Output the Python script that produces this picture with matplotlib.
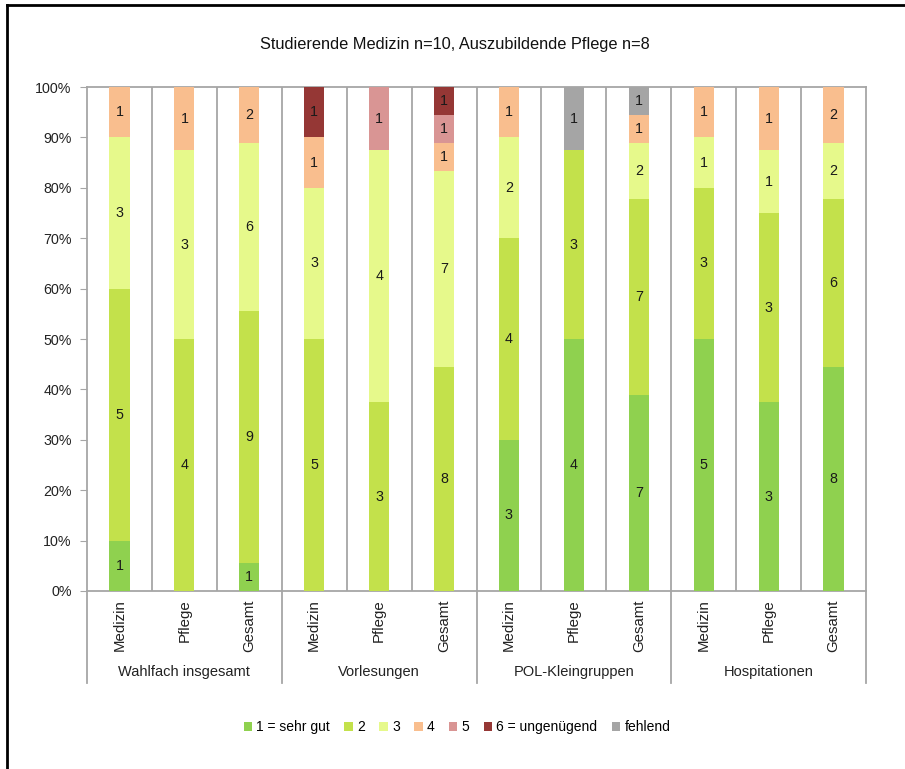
import matplotlib
matplotlib.use("Agg")
import matplotlib.pyplot as plt
from matplotlib.patches import Patch
from matplotlib.lines import Line2D
import numpy as np

plt.rcParams['font.family'] = ['Liberation Sans', 'DejaVu Sans']

title = "Studierende Medizin n=10, Auszubildende Pflege n=8"
groups = ["Wahlfach insgesamt", "Vorlesungen", "POL-Kleingruppen", "Hospitationen"]
subcats = ["Medizin", "Pflege", "Gesamt"]
series_names = ["1 = sehr gut", "2", "3", "4", "5", "6 = ungenügend", "fehlend"]
series_colors = ["#8fd14f", "#c3e14b", "#e6f98b", "#f9be8e", "#d99594", "#953735", "#a5a5a5"]

# counts per bar (12 bars), one list per grade
g1 = [1, 0, 1,   0, 0, 0,   3, 4, 7,   5, 3, 8]
g2 = [5, 4, 9,   5, 3, 8,   4, 3, 7,   3, 3, 6]
g3 = [3, 3, 6,   3, 4, 7,   2, 0, 2,   1, 1, 2]
g4 = [1, 1, 2,   1, 0, 1,   1, 0, 1,   1, 1, 2]
g5 = [0, 0, 0,   0, 1, 1,   0, 0, 0,   0, 0, 0]
g6 = [0, 0, 0,   1, 0, 1,   0, 0, 0,   0, 0, 0]
gf = [0, 0, 0,   0, 0, 0,   0, 1, 1,   0, 0, 0]

counts = np.array([g1, g2, g3, g4, g5, g6, gf], dtype=float)
totals = counts.sum(axis=0)
shares = counts / totals

W, H = 905, 769
fig = plt.figure(figsize=(W / 100, H / 100), dpi=100)
ax = fig.add_axes([87 / W, 1 - 591 / H, (866 - 87) / W, (591 - 87) / H])

n = counts.shape[1]
x = np.arange(n)
bottom = np.zeros(n)
for i in range(counts.shape[0]):
    ax.bar(x, shares[i], 0.31, bottom=bottom, color=series_colors[i], zorder=3)
    for j in range(n):
        if counts[i, j] > 0:
            ax.text(x[j], bottom[j] + shares[i, j] / 2, f"{int(counts[i, j])}",
                    ha='center', va='center', fontsize=10.3, color='#1a1a1a', zorder=4)
    bottom += shares[i]

gray = '#a6a6a6'
ax.set_xlim(-0.5, n - 0.5)
ax.set_ylim(0, 1)
for k in range(n - 1):
    ax.axvline(k + 0.5, color=gray, lw=1.3, zorder=1)
for s in ax.spines.values():
    s.set_color(gray)
    s.set_linewidth(1.3)

ax.set_yticks(np.linspace(0, 1, 11))
ax.set_yticklabels([f"{int(round(v * 100))}%" for v in np.linspace(0, 1, 11)])
ax.tick_params(axis='y', direction='out', length=5, color=gray, labelsize=10.3,
               labelcolor='#222222', pad=6)
ax.set_xticks(x)
ax.set_xticklabels(subcats * len(groups), rotation=90, fontsize=10.8, color='#222222')
ax.tick_params(axis='x', length=0, pad=6)

trans = ax.get_xaxis_transform()
for b in [-0.5, 2.5, 5.5, 8.5, 11.5]:
    ax.plot([b, b], [0, -(683 - 591) / 504], color=gray, lw=1.3,
            transform=trans, clip_on=False)
for gi, gname in enumerate(groups):
    ax.text(gi * 3 + 1, -(672 - 591) / 504, gname, transform=trans,
            ha='center', va='center', fontsize=10.5, color='#222222')

fig.text(0.503, 1 - 45 / H, title, ha='center', va='center', fontsize=11.8, color='#111111')

handles = [Patch(facecolor=c, edgecolor='none') for c in series_colors]
fig.legend(handles, series_names, loc='center', bbox_to_anchor=(0.505, 1 - 727 / H),
           ncol=7, frameon=False, fontsize=10, handlelength=0.6, handleheight=0.6,
           handletextpad=0.3, columnspacing=1.05)

fig.add_artist(Line2D([7 / W, 7 / W], [0, 1 - 5 / H], color='black', lw=2,
                      transform=fig.transFigure))
fig.add_artist(Line2D([7 / W, 1], [1 - 5 / H, 1 - 5 / H], color='black', lw=2,
                      transform=fig.transFigure))

fig.savefig("out.png", dpi=100)
